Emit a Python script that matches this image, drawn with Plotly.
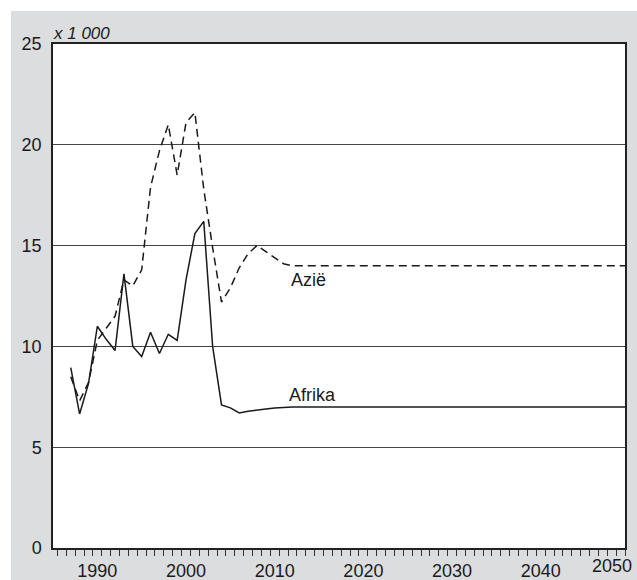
import plotly.graph_objects as go

# ---- data (x 1 000) ----
afrika_years = list(range(1987, 2013)) + [2050]
afrika_values = [8.95, 6.65, 8.15, 11.0, 10.35, 9.8, 13.6, 10.0, 9.5, 10.7,
                 9.65, 10.6, 10.3, 13.3, 15.6, 16.2, 10.0, 7.1, 6.95, 6.7,
                 6.78, 6.85, 6.9, 6.95, 6.98, 7.0, 7.0]

azie_years = list(range(1987, 2013)) + [2050]
azie_values = [8.5, 7.3, 8.2, 10.3, 10.9, 11.5, 13.3, 13.0, 13.8, 17.9,
               19.7, 21.0, 18.5, 21.1, 21.6, 17.8, 14.9, 12.2, 12.9, 13.9,
               14.6, 15.0, 14.7, 14.4, 14.1, 14.0, 14.0]

x_tick_vals = [1990, 2000, 2010, 2020, 2030, 2040]
x_tick_text = ["1990", "2000", "2010", "2020", "2030", "2040"]
last_tick_text = "2050"
y_tick_vals = [0, 5, 10, 15, 20, 25]
unit_label = "x 1 000"
series_labels = {"Azië": (2011.6, 13.3), "Afrika": (2011.4, 7.6)}

FONT = "Liberation Sans, Arial, Helvetica, sans-serif"
INK = "#1a1a1a"
GRAY_BG = "#dcdddf"

fig = go.Figure()
fig.add_trace(go.Scatter(x=azie_years, y=azie_values, mode="lines",
                         line=dict(color=INK, width=1.5, dash="8px,5px"),
                         name="Azië", showlegend=False, hoverinfo="skip"))
fig.add_trace(go.Scatter(x=afrika_years, y=afrika_values, mode="lines",
                         line=dict(color=INK, width=1.5),
                         name="Afrika", showlegend=False, hoverinfo="skip"))

for text, (xx, yy) in series_labels.items():
    fig.add_annotation(x=xx, y=yy, text=text, showarrow=False,
                       xanchor="left", yanchor="middle",
                       font=dict(family=FONT, size=18, color=INK))

fig.add_annotation(x=0, y=1, xref="paper", yref="paper", text=unit_label,
                   showarrow=False, xanchor="left", yanchor="bottom",
                   xshift=-2, yshift=-1,
                   font=dict(family=FONT, size=17, color=INK, style="italic"))
fig.add_annotation(x=1, y=0, xref="paper", yref="paper", text=last_tick_text,
                   showarrow=False, xanchor="right", yanchor="top",
                   xshift=9, yshift=-6,
                   font=dict(family=FONT, size=18, color=INK))

# gray frame background starting 11px from the top/left edge
fig.add_shape(type="rect", xref="paper", yref="paper",
              xsizemode="pixel", xanchor=0, x0=-42, x1=600,
              ysizemode="pixel", yanchor=0, y0=-60, y1=537,
              fillcolor=GRAY_BG, line=dict(width=0), layer="below")
# white plotting area on top of the gray frame
fig.add_shape(type="rect", xref="paper", yref="paper", x0=0, x1=1, y0=0, y1=1,
              fillcolor="white", line=dict(width=0), layer="below")

fig.update_layout(
    width=637, height=580,
    margin=dict(l=53, r=12, t=44, b=32, autoexpand=False),
    paper_bgcolor="white", plot_bgcolor="white",
    font=dict(family=FONT, size=18, color=INK),
    showlegend=False,
    xaxis=dict(range=[1985, 2049.5], tickvals=x_tick_vals, ticktext=x_tick_text,
               ticks="", showgrid=False, zeroline=False,
               showline=True, linecolor="#222", linewidth=2, mirror=True,
               ticklabelstandoff=5,
               minor=dict(ticks="outside", tick0=1985.5, dtick=1, ticklen=6,
                          tickcolor="#333", tickwidth=1, showgrid=False),
               tickfont=dict(family=FONT, size=18, color=INK)),
    yaxis=dict(range=[0, 25], tickvals=y_tick_vals, ticks="",
               showgrid=True, gridcolor="#444", gridwidth=1.2,
               zeroline=False, showline=True, linecolor="#222", linewidth=1.5,
               mirror=True, ticklabelstandoff=6,
               tickfont=dict(family=FONT, size=18, color=INK)),
)

fig.write_html("out.html", config={"displayModeBar": False},
               post_script="document.body.style.margin='0';document.body.style.overflow='hidden';")
